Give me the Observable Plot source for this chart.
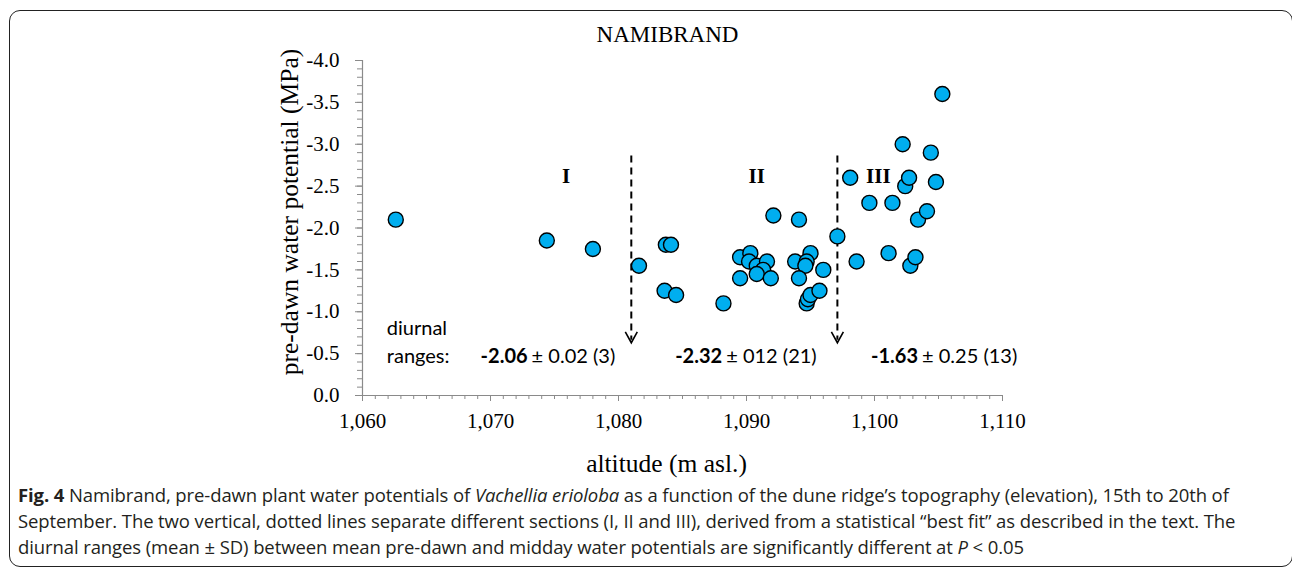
<!DOCTYPE html>
<html>
<head>
<meta charset="utf-8">
<script src="https://cdn.jsdelivr.net/npm/d3@7"></script>
<script src="https://cdn.jsdelivr.net/npm/@observablehq/plot@0.6"></script>
<style>
  html, body { margin: 0; padding: 0; background: #fff; }
  #wrap { position: relative; width: 1292px; height: 571px; overflow: hidden; }
  #frame { position: absolute; left: 9px; top: 10px; width: 1284px; height: 557px;
           border: 1.6px solid #222; border-radius: 11px; box-sizing: border-box; }
  #chart { position: absolute; left: 0; top: 0; }
  #caption { position: absolute; left: 18px; top: 482px; font-family: "Open Sans", sans-serif;
             font-size: 18.5px; line-height: 26px; color: #231f20; white-space: nowrap; letter-spacing: -0.1px; }
</style>
</head>
<body>
<div id="wrap">
  <div id="frame"></div>
  <div id="chart"></div>
  <div id="caption">
    <b>Fig. 4</b> Namibrand, pre-dawn plant water potentials of <i>Vachellia erioloba</i> as a function of the dune ridge’s topography (elevation), 15th to 20th of<br>
    September. The two vertical, dotted lines separate different sections (I, II and III), derived from a statistical “best fit” as described in the text. The<br>
    diurnal ranges (mean ± SD) between mean pre-dawn and midday water potentials are significantly different at <i>P</i> &lt; 0.05
  </div>
</div>
<script>
// ---- data ----
const altitude = [
  1062.6, 1074.4, 1078.0, 1081.6, 1083.7, 1084.1, 1083.6, 1084.5,
  1088.2, 1092.1, 1094.1, 1089.5, 1090.3, 1090.2, 1090.8, 1091.6, 1091.3, 1090.8, 1091.9, 1089.5,
  1093.8, 1095.0, 1094.7, 1094.6, 1096.0, 1094.1, 1094.7, 1094.8, 1095.0, 1095.7,
  1097.1, 1098.6, 1098.1, 1099.6, 1101.4, 1101.1, 1102.2, 1102.4, 1102.7, 1102.8,
  1103.2, 1103.4, 1104.1, 1104.4, 1104.8, 1105.3
];
const potential = [
  -2.10, -1.85, -1.75, -1.55, -1.80, -1.80, -1.25, -1.20,
  -1.10, -2.15, -2.10, -1.65, -1.70, -1.60, -1.55, -1.60, -1.50, -1.45, -1.40, -1.40,
  -1.60, -1.70, -1.60, -1.55, -1.50, -1.40, -1.10, -1.15, -1.20, -1.25,
  -1.90, -1.60, -2.60, -2.30, -2.30, -1.70, -3.00, -2.50, -2.60, -1.55,
  -1.65, -2.10, -2.20, -2.90, -2.55, -3.60
];
const sectionBreaks = [1081.0, 1097.1];
const sectionLabels = ["I", "II", "III"];
const sectionLabelAlt = [1075.9, 1090.8, 1100.3];
const rangeMeans = ["-2.06", "-2.32", "-1.63"];
const rangeRest = ["± 0.02 (3)", "± 012 (21)", "± 0.25 (13)"];
const rangeAlt = [1072.9, 1088.1, 1103.4];
const xTicks = [1060, 1070, 1080, 1090, 1100, 1110];
const yTicks = [0, -0.5, -1.0, -1.5, -2.0, -2.5, -3.0, -3.5, -4.0];
const xMinor = d3.range(1060, 1111, 1);
const yMinor = d3.range(0, 41).map(i => -i / 10);

const points = altitude.map((a, i) => ({altitude: a, potential: potential[i]}));

const serif = "'Liberation Serif', 'Times New Roman', serif";
const sans = "Lato, 'Open Sans', sans-serif";
const axisGray = "#8a8a8a";

const vee = {
  draw(context, size) {
    const r = Math.sqrt(size / Math.PI);
    context.moveTo(-r, -1.8 * r);
    context.lineTo(0, 0);
    context.lineTo(r, -1.8 * r);
  }
};

const chart = Plot.plot({
  width: 1292,
  height: 480,
  marginLeft: 362,
  marginRight: 290,
  marginTop: 60,
  marginBottom: 85,
  style: {fontFamily: serif, color: "black", background: "transparent"},
  x: {domain: [1060, 1110]},
  y: {domain: [0, -4]},
  marks: [
    // minor ticks
    Plot.axisX({ticks: xMinor, tickSize: 4, text: null, stroke: axisGray, label: null}),
    Plot.axisY({ticks: yMinor, tickSize: 5, text: null, stroke: axisGray, label: null}),
    // major ticks + labels
    Plot.axisX({ticks: xTicks, tickFormat: d3.format(","), tickSize: 6, tickPadding: 12,
      stroke: axisGray, fill: "black", fontSize: 21, fontFamily: serif, label: null}),
    Plot.axisY({ticks: yTicks, tickFormat: d => d.toFixed(1), tickSize: 7, tickPadding: 16,
      stroke: axisGray, fill: "black", fontSize: 21, fontFamily: serif, label: null}),
    Plot.ruleY([0], {stroke: axisGray, strokeWidth: 1.2}),
    Plot.ruleX([1060], {stroke: axisGray, strokeWidth: 1.2}),
    // section dividers
    Plot.ruleX(sectionBreaks, {x: d => d, y1: () => -2.86, y2: () => -0.66,
      stroke: "black", strokeWidth: 2, strokeDasharray: "7,5"}),
    Plot.dot(sectionBreaks, {x: d => d, y: () => -0.63, symbol: vee, r: 6,
      fill: "none", stroke: "black", strokeWidth: 1.6}),
    // section labels
    Plot.text(sectionLabels, {x: sectionLabelAlt, y: () => -2.62, text: d => d,
      fontFamily: serif, fontWeight: "bold", fontSize: 21, fill: "black"}),
    // data points
    Plot.dot(points, {x: "altitude", y: "potential", r: 7.5, fill: "#00AEEF",
      stroke: "black", strokeWidth: 1.4}),
    // diurnal ranges annotation
    Plot.text(["diurnal"], {x: () => 1061.9, y: () => -0.80, text: d => d, textAnchor: "start",
      fontFamily: sans, fontSize: 20, fill: "black"}),
    Plot.text(["ranges:"], {x: () => 1061.9, y: () => -0.46, text: d => d, textAnchor: "start",
      fontFamily: sans, fontSize: 20, fill: "black"}),
    Plot.text(rangeMeans, {x: rangeAlt, y: () => -0.46, text: d => d, textAnchor: "end",
      fontFamily: sans, fontWeight: "bold", fontSize: 20, fill: "black"}),
    Plot.text(rangeRest, {x: rangeAlt, y: () => -0.46, text: d => d, textAnchor: "start", dx: 4,
      fontFamily: sans, fontSize: 20, fill: "black"}),
    // title and axis labels
    Plot.text(["NAMIBRAND"], {frameAnchor: "top", text: d => d, dx: -15, dy: -26,
      textAnchor: "middle", lineAnchor: "middle",
      fontFamily: serif, fontSize: 23, fill: "black"}),
    Plot.text(["pre-dawn water potential (MPa)"], {frameAnchor: "left", text: d => d, rotate: -90,
      textAnchor: "middle", lineAnchor: "middle",
      dx: -73, dy: -16, fontFamily: serif, fontSize: 25.5, fill: "black"}),
    Plot.text(["altitude (m asl.)"], {frameAnchor: "bottom", text: d => d, dx: -16, dy: 68,
      textAnchor: "middle", lineAnchor: "middle",
      fontFamily: serif, fontSize: 25.5, fill: "black"})
  ]
});
document.getElementById("chart").appendChild(chart);
</script>
</body>
</html>
